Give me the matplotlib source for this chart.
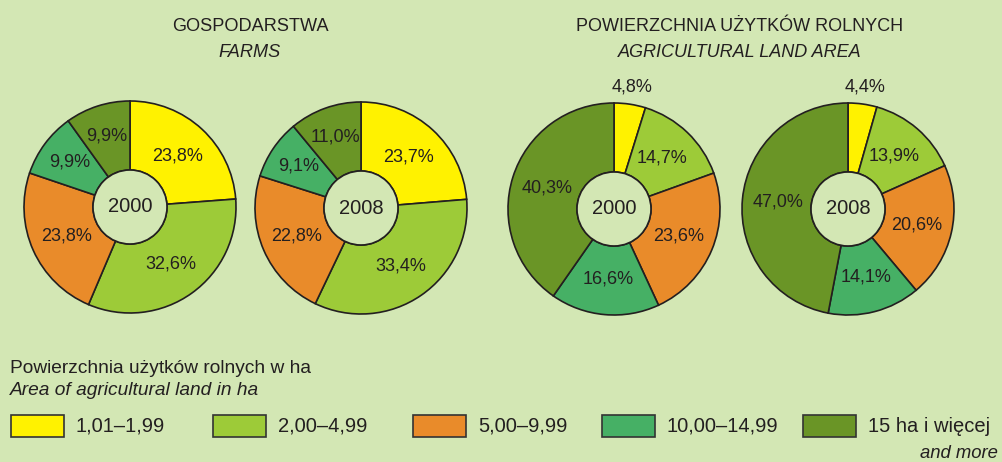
import matplotlib
matplotlib.use("Agg")
import matplotlib.pyplot as plt
import numpy as np
from matplotlib.patches import Circle, Rectangle

plt.rcParams['font.family'] = ['Liberation Sans', 'DejaVu Sans']

# ---- data ----
categories = ["1,01–1,99", "2,00–4,99", "5,00–9,99", "10,00–14,99", "15 ha i więcej"]
farms_2000 = [23.8, 32.6, 23.8, 9.9, 9.9]
farms_2008 = [23.7, 33.4, 22.8, 9.1, 11.0]
land_2000 = [4.8, 14.7, 23.6, 16.6, 40.3]
land_2008 = [4.4, 13.9, 20.6, 14.1, 47.0]
years = ["2000", "2008", "2000", "2008"]

colors = ["#fff200", "#9dcb38", "#e98b2a", "#46b065", "#6a9526"]
bg = "#d3e7b4"
ink = "#231f20"

W, H = 1002, 462
fig = plt.figure(figsize=(W / 100, H / 100), dpi=100, facecolor=bg)
ax = fig.add_axes([0, 0, 1, 1])
ax.set_facecolor(bg)

R_OUT = 106
R_IN = 37
centers = [(130, 207), (361, 208), (614, 209), (848, 209)]
series = [farms_2000, farms_2008, land_2000, land_2008]

def fmt(v):
    return f"{v:.1f}".replace(".", ",") + "%"

for (cx, cy_px), vals, yr in zip(centers, series, years):
    cy = H - cy_px
    wedges, _ = ax.pie(vals, colors=colors, startangle=90, counterclock=False,
                       center=(cx, cy), radius=R_OUT, normalize=True,
                       wedgeprops=dict(width=R_OUT - R_IN, edgecolor=ink, linewidth=1.2))
    for w, v in zip(wedges, vals):
        mid = np.deg2rad((w.theta1 + w.theta2) / 2)
        if v < 6:
            r = R_OUT * 1.16
        elif v < 12:
            r = 75
        else:
            r = 70
        ax.text(cx + r * np.cos(mid), cy + r * np.sin(mid), fmt(v),
                ha="center", va="center", fontsize=13, color=ink)
    ax.add_patch(Circle((cx, cy), R_IN, facecolor=bg, edgecolor=ink, linewidth=1.2, zorder=5))
    ax.text(cx, cy, yr, ha="center", va="center", fontsize=14.5, color=ink, zorder=6)

# titles
ax.text(250, H - 31, "GOSPODARSTWA", ha="center", va="baseline", fontsize=13.1, color=ink)
ax.text(250, H - 57, "FARMS", ha="center", va="baseline", fontsize=13.1, style="italic", color=ink)
ax.text(740, H - 31, "POWIERZCHNIA UŻYTKÓW ROLNYCH", ha="center", va="baseline", fontsize=13.0, color=ink)
ax.text(740, H - 57, "AGRICULTURAL LAND AREA", ha="center", va="baseline", fontsize=13.0, style="italic", color=ink)

# legend
ax.text(10, H - 373, "Powierzchnia użytków rolnych w ha", ha="left", va="baseline", fontsize=13.8, color=ink)
ax.text(10, H - 395, "Area of agricultural land in ha", ha="left", va="baseline", fontsize=13.8, style="italic", color=ink)
box_x = [11, 213, 413, 602, 803]
for bx, c, lab in zip(box_x, colors, categories):
    ax.add_patch(Rectangle((bx, H - 437), 53, 22, facecolor=c, edgecolor="#333333", linewidth=1.2))
    ax.text(bx + 65, H - 426, lab, ha="left", va="center", fontsize=14.5, color=ink)
ax.text(998, H - 458, "and more", ha="right", va="baseline", fontsize=13.3, style="italic", color=ink)

ax.set_xlim(0, W)
ax.set_ylim(0, H)
ax.set_aspect("auto")
ax.axis("off")
fig.savefig("out.png", dpi=100, facecolor=bg)
